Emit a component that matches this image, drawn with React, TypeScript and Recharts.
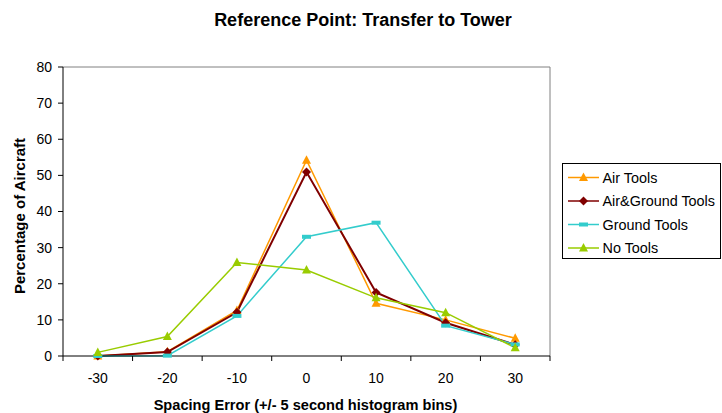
import React from "react";
import { LineChart, Line, XAxis, YAxis, ReferenceLine } from "recharts";

// Histogram bin centres (seconds of spacing error)
const categories = [-30, -20, -10, 0, 10, 20, 30];

// Percentage of aircraft per bin
const airTools = [0, 1.2, 12.6, 54.2, 14.6, 10.0, 4.9];
const airGroundTools = [0, 1.1, 12.1, 50.9, 17.6, 9.2, 3.1];
const groundTools = [0, 0.1, 11.1, 33.0, 36.9, 8.4, 3.2];
const noTools = [1.0, 5.4, 25.9, 23.8, 16.1, 12.0, 2.3];

const yTicks = [0, 10, 20, 30, 40, 50, 60, 70, 80];

const FONT = "'Liberation Sans', Arial, sans-serif";

const data = categories.map((c, i) => ({
  bin: c,
  air: airTools[i],
  airGround: airGroundTools[i],
  ground: groundTools[i],
  none: noTools[i],
}));

type MarkerKind = "triangle" | "diamond" | "bar";

const seriesDefs: { key: string; name: string; color: string; width: number; marker: MarkerKind }[] = [
  { key: "air", name: "Air Tools", color: "#FF9900", width: 1.5, marker: "triangle" },
  { key: "airGround", name: "Air&Ground Tools", color: "#800000", width: 2, marker: "diamond" },
  { key: "ground", name: "Ground Tools", color: "#33CCCC", width: 1.5, marker: "bar" },
  { key: "none", name: "No Tools", color: "#99CC00", width: 1.5, marker: "triangle" },
];

function Marker({ kind, cx, cy, color }: { kind: MarkerKind; cx: number; cy: number; color: string }) {
  if (kind === "triangle") {
    return <polygon points={`${cx},${cy - 5} ${cx + 4.5},${cy + 3.5} ${cx - 4.5},${cy + 3.5}`} fill={color} />;
  }
  if (kind === "diamond") {
    return <polygon points={`${cx},${cy - 4.5} ${cx + 4.5},${cy} ${cx},${cy + 4.5} ${cx - 4.5},${cy}`} fill={color} />;
  }
  return <rect x={cx - 4.5} y={cy - 2} width={9} height={4} fill={color} />;
}

const PLOT_LEFT = 63;
const PLOT_RIGHT = 550;
const PLOT_TOP = 67;
const PLOT_BOTTOM = 356;
const HALF_BIN = (PLOT_RIGHT - PLOT_LEFT) / categories.length / 2;

function BinTick(props: any) {
  const { x, payload, index } = props;
  const isLast = index === categories.length - 1;
  return (
    <g>
      <line x1={x - HALF_BIN} x2={x - HALF_BIN} y1={PLOT_BOTTOM} y2={PLOT_BOTTOM + 5} stroke="#000" />
      {isLast && <line x1={x + HALF_BIN} x2={x + HALF_BIN} y1={PLOT_BOTTOM} y2={PLOT_BOTTOM + 5} stroke="#000" />}
      <text x={x} y={PLOT_BOTTOM + 27} textAnchor="middle" fontFamily={FONT} fontSize={14} fill="#000">
        {payload.value}
      </text>
    </g>
  );
}

function LegendBox() {
  return (
    <div
      style={{
        position: "absolute",
        left: 562,
        top: 163,
        width: 157,
        height: 94,
        border: "1px solid #000",
        background: "#fff",
      }}
    >
      <svg width={157} height={94} style={{ display: "block" }}>
        {seriesDefs.map((s, i) => {
          const cy = 13.5 + i * 23.5;
          return (
            <g key={s.key}>
              <line x1={5} x2={36} y1={cy} y2={cy} stroke={s.color} strokeWidth={1.5} />
              <Marker kind={s.marker} cx={20.5} cy={cy} color={s.color} />
              <text x={39.5} y={cy + 5} fontFamily={FONT} fontSize={14.4} fill="#000">
                {s.name}
              </text>
            </g>
          );
        })}
      </svg>
    </div>
  );
}

export default function App() {
  return (
    <div style={{ position: "absolute", left: 0, top: 0, width: 722, height: 413, background: "#fff" }}>
      <div
        style={{
          position: "absolute",
          left: 0,
          top: 9,
          width: 726,
          textAlign: "center",
          fontFamily: FONT,
          fontWeight: "bold",
          fontSize: 18,
          lineHeight: "22px",
          color: "#000",
        }}
      >
        Reference Point: Transfer to Tower
      </div>
      <LineChart
        width={722}
        height={413}
        data={data}
        margin={{ top: PLOT_TOP, right: 722 - PLOT_RIGHT, bottom: 27, left: 23 }}
      >
        <XAxis
          dataKey="bin"
          type="number"
          domain={[-35, 35]}
          ticks={categories}
          interval={0}
          height={30}
          axisLine={{ stroke: "#000" }}
          tickLine={false}
          tick={<BinTick />}
          label={() => (
            <text
              x={305.5}
              y={409.5}
              textAnchor="middle"
              fontFamily={FONT}
              fontWeight="bold"
              fontSize={14.6}
              fill="#000"
            >
              Spacing Error (+/- 5 second histogram bins)
            </text>
          )}
        />
        <YAxis
          type="number"
          domain={[0, 80]}
          ticks={yTicks}
          interval={0}
          width={40}
          axisLine={{ stroke: "#000" }}
          tickLine={{ stroke: "#000" }}
          tickSize={5}
          tickMargin={6}
          tick={{ fontFamily: FONT, fontSize: 14, fill: "#000" }}
          label={() => (
            <text
              x={25}
              y={216}
              transform="rotate(-90 25 216)"
              textAnchor="middle"
              fontFamily={FONT}
              fontWeight="bold"
              fontSize={15}
              fill="#000"
            >
              Percentage of Aircraft
            </text>
          )}
        />
        <ReferenceLine y={80} stroke="#808080" strokeWidth={1} />
        <ReferenceLine x={35} stroke="#808080" strokeWidth={1} />
        {seriesDefs.map((s) => (
          <Line
            key={s.key}
            type="linear"
            dataKey={s.key}
            name={s.name}
            stroke={s.color}
            strokeWidth={s.width}
            isAnimationActive={false}
            activeDot={false}
            dot={(p: any) => <Marker key={`${s.key}-${p.index}`} kind={s.marker} cx={p.cx} cy={p.cy} color={s.color} />}
          />
        ))}
      </LineChart>
      <LegendBox />
    </div>
  );
}
